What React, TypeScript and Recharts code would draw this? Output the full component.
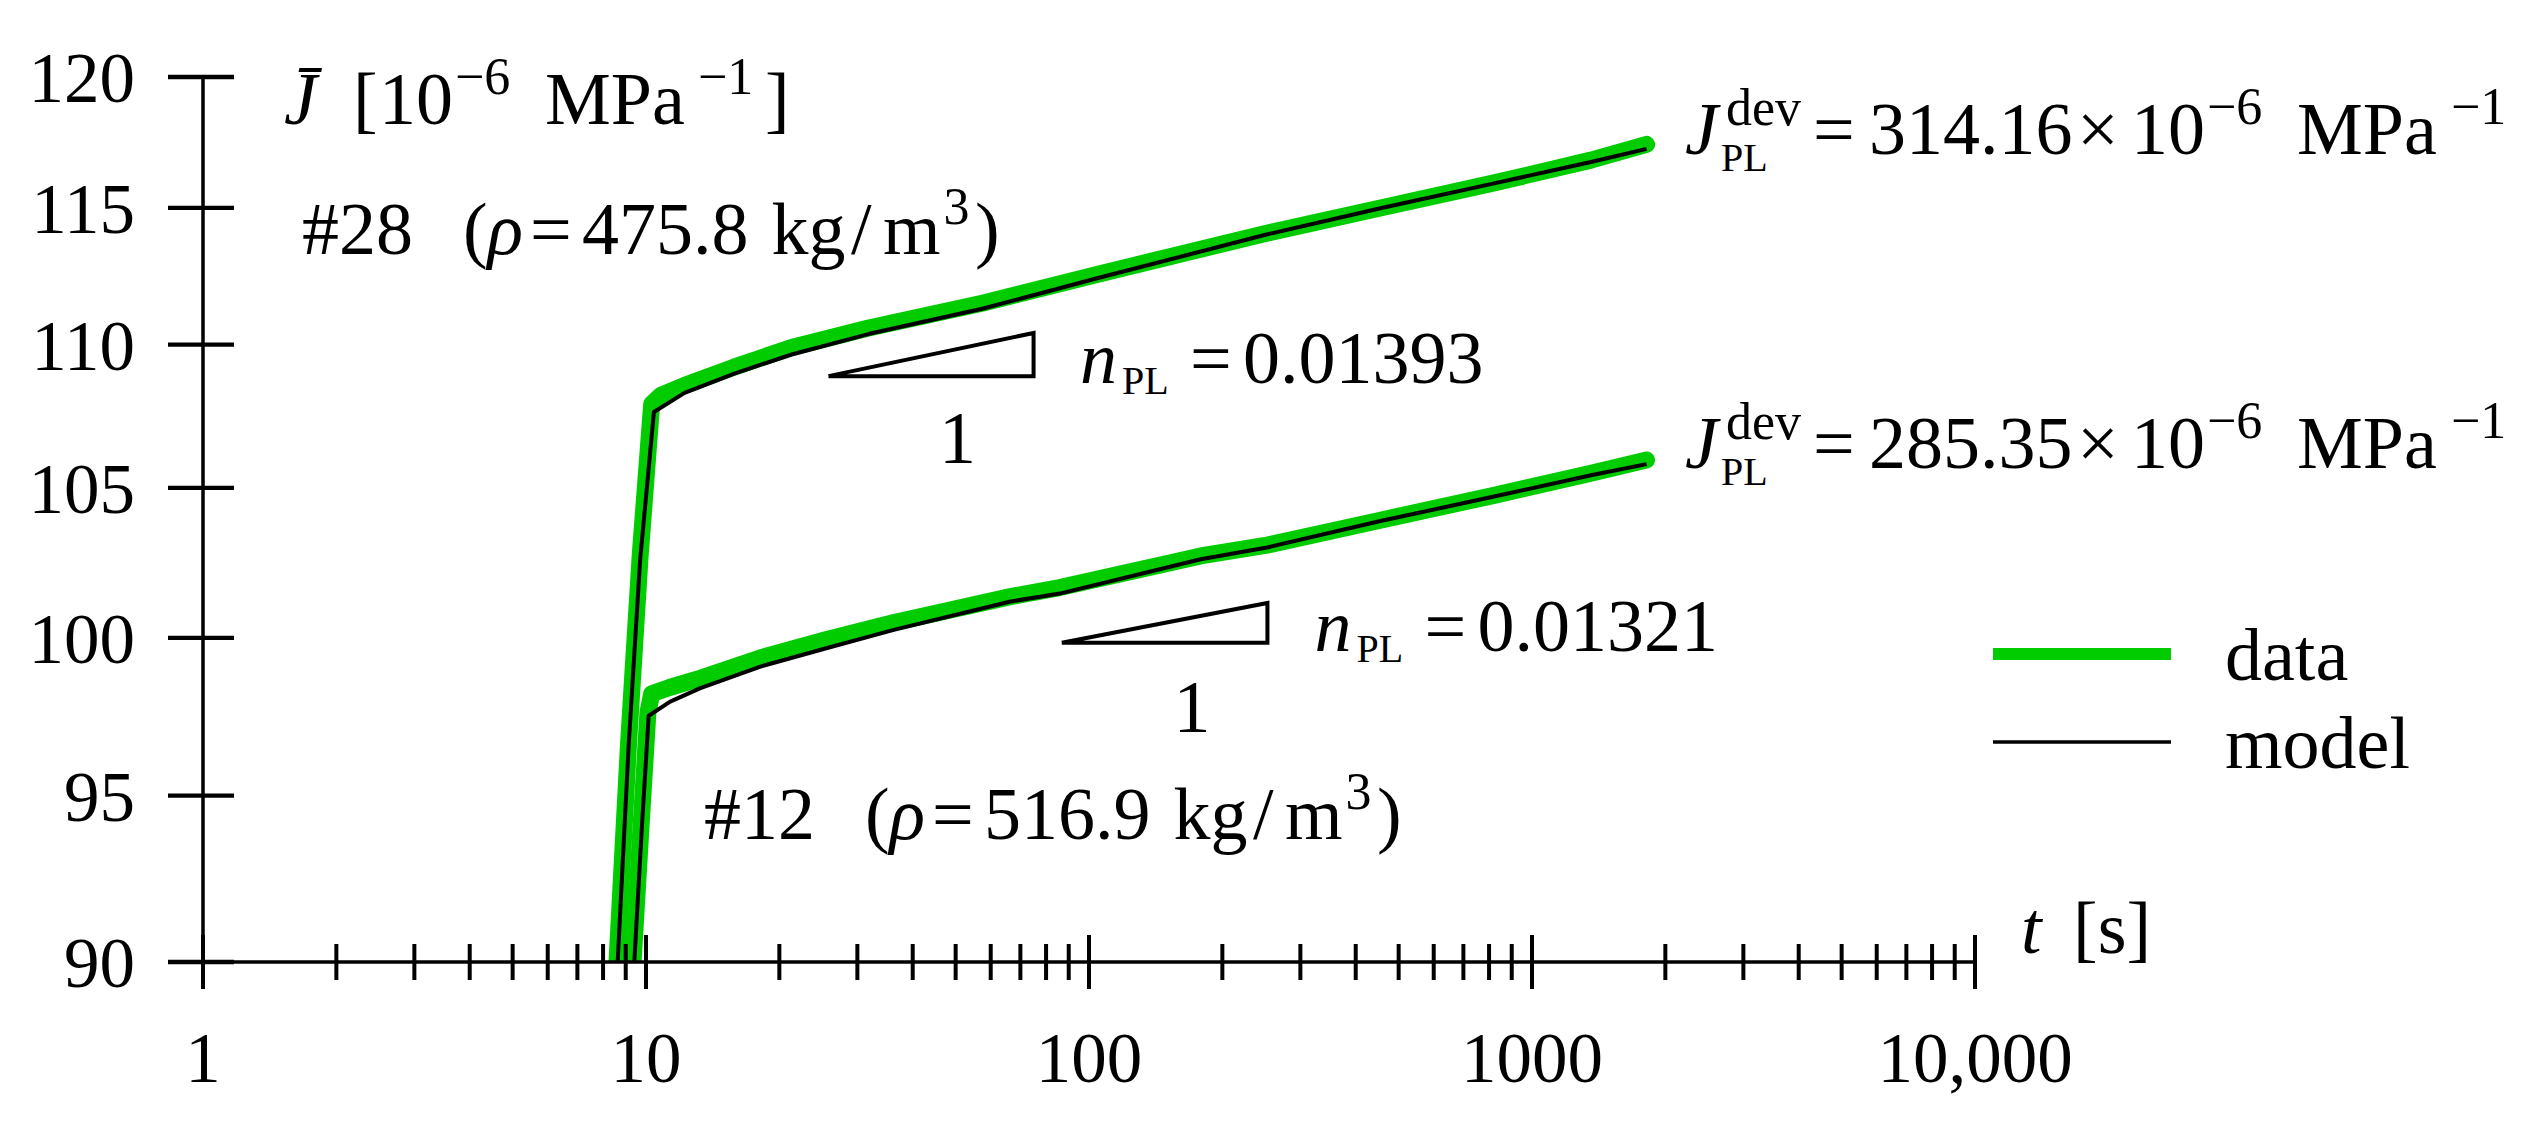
import React from 'react';
import { LineChart, Line, XAxis, YAxis, Legend, Label } from 'recharts';

const FONT = '"Liberation Serif", "DejaVu Serif", serif';
const GREEN = '#00cc00';

// Specimen #28 (upper curve)
const upperModelT = [8.63, 9.135, 9.7, 10.42, 12.22, 15.83, 21.33, 31.76, 57.7, 104.8, 250.3, 454.8, 826.2, 1358.7, 1814];
const upperModelJ = [90, 96.53, 102.57, 107.62, 108.29, 108.97, 109.65, 110.38, 111.3, 112.41, 114.0, 114.99, 115.93, 116.73, 117.23];
const upperDataT = [8.6, 9.13, 9.7, 10.3, 10.8, 12.2, 15.8, 21.3, 31.8, 57.7, 104.8, 250.3, 454.8, 826.2, 1358.7, 1814];
const upperDataJ = [90, 96.6, 102.7, 107.9, 108.2, 108.55, 109.2, 109.9, 110.6, 111.5, 112.55, 114.05, 115.0, 115.95, 116.8, 117.4];

// Specimen #12 (lower curve)
const lowerModelT = [9.41, 9.79, 10.14, 11.34, 13.27, 18.13, 25.64, 36.25, 66.52, 85.9, 178.7, 250.3, 454.8, 826.2, 1358.7, 1814];
const lowerModelJ = [90, 94.05, 97.5, 97.95, 98.38, 99.07, 99.67, 100.26, 101.19, 101.45, 102.59, 102.97, 103.87, 104.71, 105.43, 105.81];
const lowerDataT = [9.35, 9.75, 10.1, 10.3, 11.3, 13.3, 18.1, 25.6, 36.3, 66.5, 85.9, 178.7, 250.3, 454.8, 826.2, 1358.7, 1814];
const lowerDataJ = [90, 94.1, 97.6, 98.2, 98.4, 98.7, 99.35, 99.95, 100.5, 101.35, 101.65, 102.7, 103.05, 103.9, 104.75, 105.5, 105.95];

// Slope triangles
const slopeUpperT = [25.82, 74.97, 74.97, 25.82];
const slopeUpperJ = [108.88, 110.42, 108.88, 108.88];
const slopeLowerT = [86.8, 252.8, 252.8, 86.8];
const slopeLowerJ = [99.84, 101.14, 99.84, 99.84];

// Axes
const yTicks = [90, 95, 100, 105, 110, 115, 120];
const xMajorTicks = [1, 10, 100, 1000, 10000];
const xMajorLabels = ['1', '10', '100', '1000', '10,000'];
const xMinorTicks = [2, 3, 4, 5, 6, 7, 8, 9, 20, 30, 40, 50, 60, 70, 80, 90, 200, 300, 400, 500, 600, 700, 800, 900, 2000, 3000, 4000, 5000, 6000, 7000, 8000, 9000];
const xTicks = [...xMajorTicks, ...xMinorTicks].sort((a, b) => a - b);

const rows = (t: number[], j: number[]) => t.map((v, i) => ({ t: v, J: j[i] }));

type Seg = { s: string; x: number; dy?: number; size?: number; it?: boolean };

const MAIN = 74;
const SUP = 52;
const SUB = 40;

const Rich = ({ x0, y0, segs, size = MAIN }: { x0: number; y0: number; segs: Seg[]; size?: number }) => (
  <text fontFamily={FONT} fill="#000" style={{ whiteSpace: 'pre' }}>
    {segs.map((g, i) => (
      <tspan key={i} x={x0 + g.x} y={y0 + (g.dy || 0)} fontSize={g.size || size} fontStyle={g.it ? 'italic' : 'normal'}>
        {g.s}
      </tspan>
    ))}
  </text>
);

const rhoSegs = (id: string, rho: string): Seg[] => [
  { s: id, x: 0 },
  { s: '(', x: 161 },
  { s: 'ρ', x: 185.5, it: true },
  { s: '=', x: 228 },
  { s: rho, x: 280 },
  { s: 'kg', x: 469.6 },
  { s: '/', x: 549 },
  { s: 'm', x: 581 },
  { s: '3', x: 641.5, dy: -30, size: SUP },
  { s: ')', x: 673 },
];

const nSegs = (val: string): Seg[] => [
  { s: 'n', x: 0, it: true },
  { s: 'PL', x: 42, dy: 11, size: SUB },
  { s: '=', x: 110 },
  { s: val, x: 163 },
];

const jSegs = (val: string): Seg[] => [
  { s: 'J', x: 0, it: true },
  { s: 'dev', x: 41, dy: -29, size: SUP },
  { s: 'PL', x: 36, dy: 17, size: SUB },
  { s: '=', x: 128 },
  { s: val, x: 184 },
  { s: '×', x: 392 },
  { s: '10', x: 446 },
  { s: '−6', x: 522, dy: -30, size: SUP },
  { s: 'MPa', x: 612 },
  { s: '−1', x: 766, dy: -30, size: SUP },
];

const yLabelSegs: Seg[] = [
  { s: 'J\u0304', x: 0, it: true },
  { s: '[', x: 69 },
  { s: '10', x: 95 },
  { s: '−6', x: 171, dy: -30, size: SUP },
  { s: 'MPa', x: 261 },
  { s: '−1', x: 414, dy: -30, size: SUP },
  { s: ']', x: 481 },
];

const tLabelSegs: Seg[] = [
  { s: 't', x: 0, it: true },
  { s: '[s]', x: 52 },
];

const YTick = (props: any) => {
  const { x, y, payload } = props;
  return (
    <g>
      <line x1={x - 35} x2={x + 31} y1={y} y2={y} stroke="#000" strokeWidth={4.3} />
      <text x={x - 68} y={y + 25} textAnchor="end" fontFamily={FONT} fontSize={71} fill="#000">
        {payload.value}
      </text>
    </g>
  );
};

const XTick = (props: any) => {
  const { x, y, payload } = props;
  const idx = xMajorTicks.indexOf(payload.value);
  const h = idx >= 0 ? 27 : 18;
  return (
    <g>
      <line x1={x} x2={x} y1={y - h} y2={y + h} stroke="#000" strokeWidth={4} />
      {idx >= 0 && (
        <text x={x} y={y + 120} textAnchor="middle" fontFamily={FONT} fontSize={71} fill="#000">
          {xMajorLabels[idx]}
        </text>
      )}
    </g>
  );
};

const legendWidths: Record<string, number> = { data: 12, model: 3.5 };

const LegendBox = (props: any) => {
  const seen = new Set<string>();
  const items = (props.payload || []).filter((p: any) => {
    if (p.type === 'none' || seen.has(p.value)) return false;
    seen.add(p.value);
    return true;
  });
  return (
    <svg width={560} height={200} style={{ overflow: 'visible' }}>
      {items.map((it: any, i: number) => (
        <g key={i}>
          <line x1={0} x2={178} y1={44 + i * 88} y2={44 + i * 88} stroke={it.color} strokeWidth={legendWidths[it.value] || 4} />
          <text x={232} y={70 + i * 88} fontFamily={FONT} fontSize={MAIN} fill="#000">
            {it.value}
          </text>
        </g>
      ))}
    </svg>
  );
};

const YAxisLabel = (props: any) => {
  const vb = props.viewBox || { x: 202, y: 77, width: 1 };
  return <Rich x0={vb.x + vb.width + 81} y0={vb.y + 47} segs={yLabelSegs} />;
};

const XAxisLabel = (props: any) => {
  const vb = props.viewBox || { x: 203, y: 962, width: 1772 };
  return <Rich x0={vb.x + vb.width + 46} y0={vb.y - 9} segs={tLabelSegs} />;
};

export default function App() {
  return (
    <div style={{ position: 'absolute', left: 0, top: 0, width: 2544, height: 1132, background: '#fff' }}>
      <LineChart width={2544} height={1132} margin={{ top: 77, right: 569, bottom: 169, left: 202 }}>
        <XAxis
          dataKey="t"
          type="number"
          scale="log"
          domain={[1, 10000]}
          ticks={xTicks}
          interval={0}
          allowDataOverflow
          height={1}
          tickSize={0}
          tickMargin={0}
          tickLine={false}
          axisLine={{ stroke: '#000', strokeWidth: 3.5 }}
          tick={<XTick />}
        >
          <Label content={<XAxisLabel />} />
        </XAxis>
        <YAxis
          type="number"
          scale="log"
          domain={[90, 120]}
          ticks={yTicks}
          interval={0}
          allowDataOverflow
          width={1}
          tickSize={0}
          tickMargin={0}
          tickLine={false}
          axisLine={{ stroke: '#000', strokeWidth: 3.5 }}
          tick={<YTick />}
        >
          <Label content={<YAxisLabel />} />
        </YAxis>
        <Line data={rows(upperDataT, upperDataJ)} dataKey="J" name="data" stroke={GREEN} strokeWidth={17} strokeLinecap="round" strokeLinejoin="round" dot={false} isAnimationActive={false} />
        <Line data={rows(lowerDataT, lowerDataJ)} dataKey="J" name="data " legendType="none" stroke={GREEN} strokeWidth={17} strokeLinecap="round" strokeLinejoin="round" dot={false} isAnimationActive={false} />
        <Line data={rows(upperModelT, upperModelJ)} dataKey="J" name="model" stroke="#000" strokeWidth={4} strokeLinejoin="round" dot={false} isAnimationActive={false} />
        <Line data={rows(lowerModelT, lowerModelJ)} dataKey="J" name="model " legendType="none" stroke="#000" strokeWidth={4} strokeLinejoin="round" dot={false} isAnimationActive={false} />
        <Line data={rows(slopeUpperT, slopeUpperJ)} dataKey="J" name="slope28" legendType="none" stroke="#000" strokeWidth={4} strokeLinejoin="miter" dot={false} isAnimationActive={false} />
        <Line data={rows(slopeLowerT, slopeLowerJ)} dataKey="J" name="slope12" legendType="none" stroke="#000" strokeWidth={4} strokeLinejoin="miter" dot={false} isAnimationActive={false} />
        <Legend
          layout="vertical"
          align="center"
          verticalAlign="middle"
          content={<LegendBox />}
          wrapperStyle={{ left: 1993, top: 610, width: 560, height: 200 }}
        />
      </LineChart>
      <svg width={2544} height={1132} style={{ position: 'absolute', left: 0, top: 0, pointerEvents: 'none' }}>
        <Rich x0={302} y0={253.6} segs={rhoSegs('#28', '475.8')} />
        <Rich x0={704} y0={839} segs={rhoSegs('#12', '516.9')} />
        <Rich x0={1080} y0={383} segs={nSegs('0.01393')} />
        <Rich x0={1314.6} y0={651} segs={nSegs('0.01321')} />
        <Rich x0={1685} y0={153.6} segs={jSegs('314.16')} />
        <Rich x0={1685} y0={468} segs={jSegs('285.35')} />
        <text x={957.6} y={463} textAnchor="middle" fontFamily={FONT} fontSize={MAIN} fill="#000">1</text>
        <text x={1192} y={732} textAnchor="middle" fontFamily={FONT} fontSize={MAIN} fill="#000">1</text>
      </svg>
    </div>
  );
}
